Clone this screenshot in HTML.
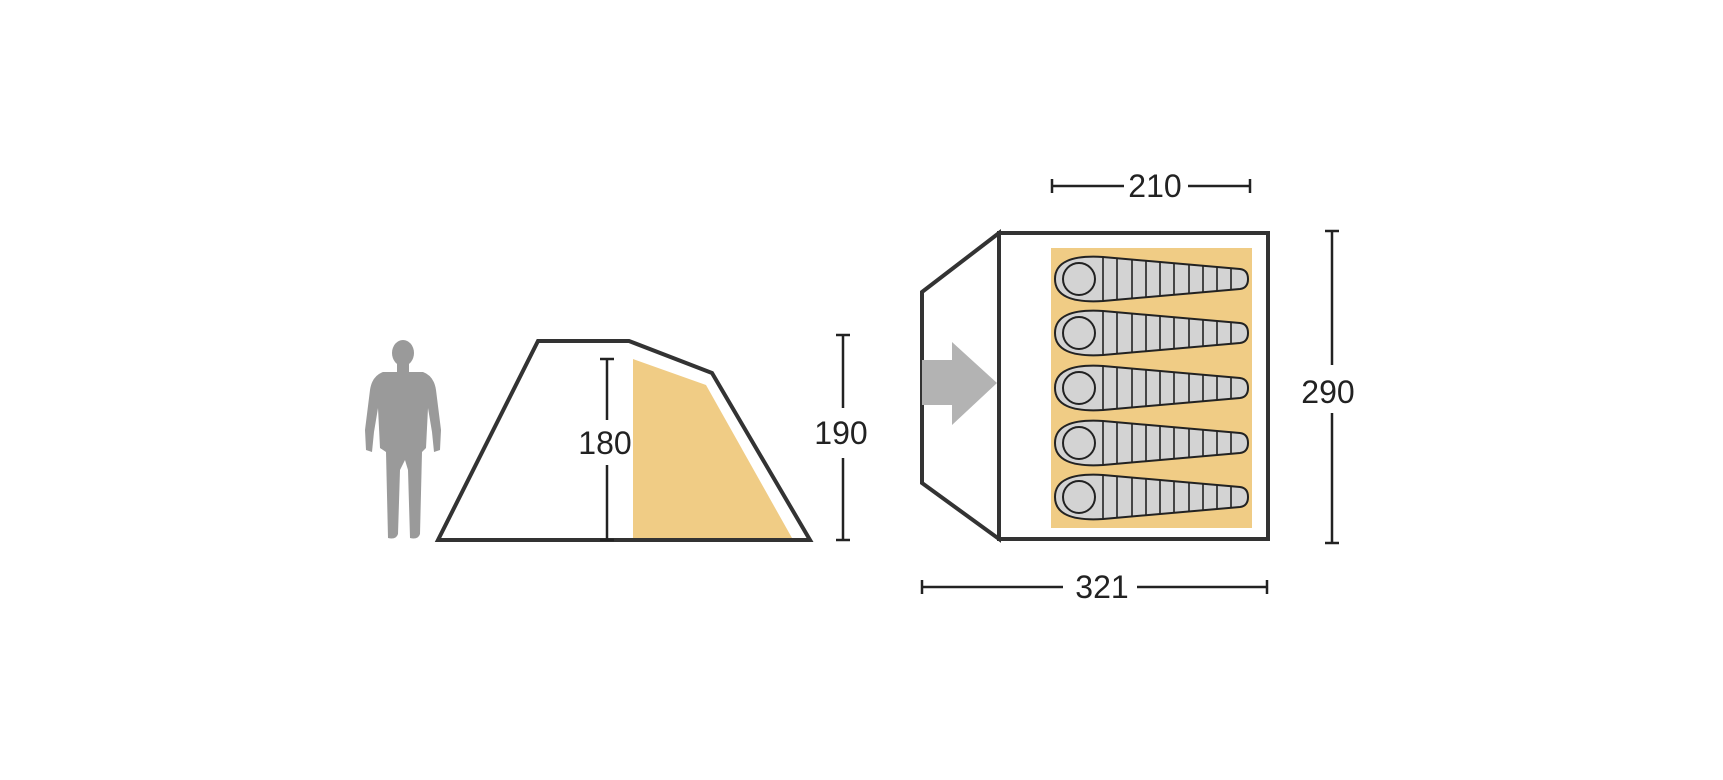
<!DOCTYPE html>
<html><head><style>
html,body{margin:0;padding:0;background:#fff}
svg{display:block}
text{font-family:"Liberation Sans",sans-serif;font-size:32px;fill:#222;text-anchor:middle;dominant-baseline:central}
</style></head><body>
<svg width="1723" height="780" viewBox="0 0 1723 780" xmlns="http://www.w3.org/2000/svg">
<g fill="#9a9a9a">
<ellipse cx="403" cy="353" rx="11" ry="13"/>
<rect x="397" y="362" width="12" height="10"/>
<path d="M383 372 L423 372 Q434 376 436 390 L441 430 L440 450 L434 452 L432 432 L428 408 L426 448 L422 452 L420 534 Q418 540 410 538 L408 470 L405 460 L400 470 L398 534 Q396 540 388 538 L386 452 L380 448 L378 408 L374 432 L372 452 L366 450 L365 430 L370 390 Q372 376 383 372Z"/>
</g>
<polygon points="633,359 706,385 792,538 633,538" fill="#f0cc85"/>
<polygon points="438,540 538,341 629,341 712,373 810,540" fill="none" stroke="#333" stroke-width="4" stroke-linejoin="miter"/>
<g stroke="#222" stroke-width="2.5">
<line x1="607" y1="359" x2="607" y2="420"/><line x1="607" y1="465" x2="607" y2="540"/>
<line x1="600" y1="359" x2="614" y2="359"/><line x1="600" y1="540" x2="614" y2="540"/>
<line x1="843" y1="335" x2="843" y2="408"/><line x1="843" y1="458" x2="843" y2="540"/>
<line x1="836" y1="335" x2="850" y2="335"/><line x1="836" y1="540" x2="850" y2="540"/>
</g>
<text x="605" y="443">180</text>
<text x="841" y="433">190</text>
<polygon points="999,233 922,292 922,483 999,539" fill="#fff" stroke="#333" stroke-width="4"/>
<rect x="999" y="233" width="269" height="306" fill="#fff" stroke="#333" stroke-width="4"/>
<polygon points="922,360 952,360 952,342 997,383 952,425 952,405 922,405" fill="#b3b3b3"/>
<rect x="1051" y="248" width="201" height="280" fill="#f0cc85"/>
<g id="bag">
<path d="M1103 257 L1240 269 Q1248 270 1248 279 Q1248 288 1240 289 L1103 301 Q1055 304 1055 279 Q1055 254 1103 257Z" fill="#d3d3d3" stroke="#222" stroke-width="2"/>
<circle cx="1079" cy="279" r="16" fill="#d3d3d3" stroke="#222" stroke-width="2"/>
<g stroke="#222" stroke-width="1.6">
<line x1="1103" y1="257" x2="1103" y2="301"/><line x1="1117" y1="258" x2="1117" y2="300"/>
<line x1="1132" y1="259" x2="1132" y2="299"/><line x1="1146" y1="261" x2="1146" y2="297"/>
<line x1="1160" y1="262" x2="1160" y2="296"/><line x1="1174" y1="263" x2="1174" y2="295"/>
<line x1="1189" y1="264" x2="1189" y2="294"/><line x1="1203" y1="266" x2="1203" y2="292"/>
<line x1="1217" y1="267" x2="1217" y2="291"/><line x1="1231" y1="268" x2="1231" y2="290"/>
</g>
</g>
<use href="#bag" y="54"/>
<use href="#bag" y="109"/>
<use href="#bag" y="164"/>
<use href="#bag" y="218"/>
<g stroke="#222" stroke-width="2.5">
<line x1="1052" y1="186" x2="1124" y2="186"/><line x1="1188" y1="186" x2="1250" y2="186"/>
<line x1="1052" y1="179" x2="1052" y2="193"/><line x1="1250" y1="179" x2="1250" y2="193"/>
<line x1="1332" y1="231" x2="1332" y2="365"/><line x1="1332" y1="413" x2="1332" y2="543"/>
<line x1="1325" y1="231" x2="1339" y2="231"/><line x1="1325" y1="543" x2="1339" y2="543"/>
<line x1="922" y1="587" x2="1063" y2="587"/><line x1="1137" y1="587" x2="1267" y2="587"/>
<line x1="922" y1="580" x2="922" y2="594"/><line x1="1267" y1="580" x2="1267" y2="594"/>
</g>
<text x="1155" y="186">210</text>
<text x="1328" y="392">290</text>
<text x="1102" y="587">321</text>
</svg>
</body></html>
